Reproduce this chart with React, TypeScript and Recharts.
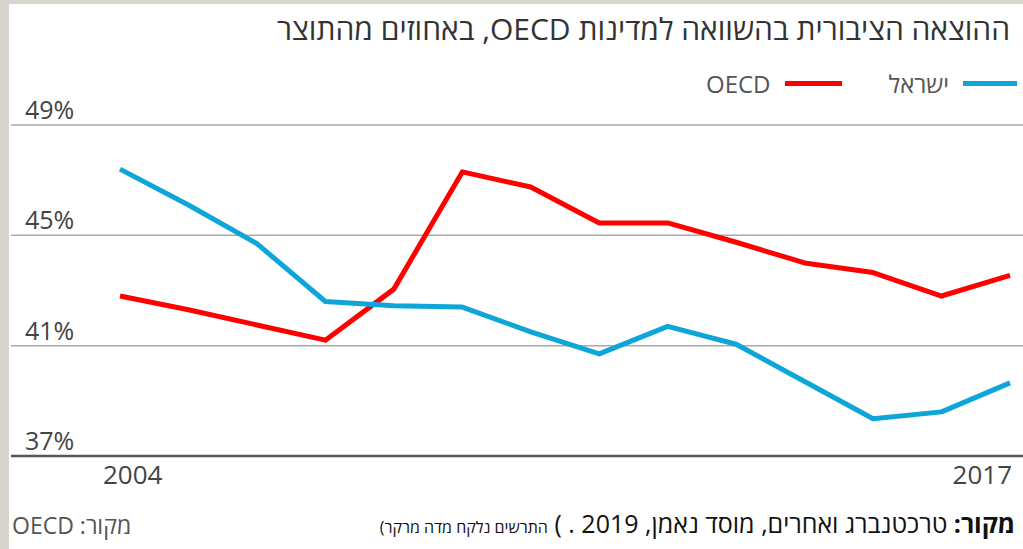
import { LineChart, Line, XAxis, YAxis, CartesianGrid, ReferenceLine } from 'recharts';

// years on the x axis
const years = [2004, 2005, 2006, 2007, 2008, 2009, 2010, 2011, 2012, 2013, 2014, 2015, 2016, 2017];
// public expenditure, % of GDP
const israel = [47.4, 46.1, 44.7, 42.6, 42.45, 42.4, 41.5, 40.7, 41.7, 41.05, 39.7, 38.35, 38.6, 39.65];
const oecd = [42.8, 42.3, 41.75, 41.2, 43.05, 47.3, 46.75, 45.45, 45.45, 44.75, 44.0, 43.65, 42.8, 43.55];
const yTicks = [37, 41, 45, 49];
const xTicks = [2004, 2017];

const title = 'ההוצאה הציבורית בהשוואה למדינות OECD, באחוזים מהתוצר';
const legendItems = [
  { name: 'ישראל', color: '#0ea5d8' },
  { name: 'OECD', color: '#ff0000' },
];

const FONT = '"Open Sans", "DejaVu Sans", sans-serif';

const data = years.map((y, i) => ({ year: y, israel: israel[i], oecd: oecd[i] }));

function YTick(props: any) {
  return (
    <text x={25} y={props.y - 6} fill="#444" fontSize={25} fontFamily={FONT} textAnchor="start">
      {props.payload.value}%
    </text>
  );
}

function XTick(props: any) {
  const first = props.payload.value === xTicks[0];
  return (
    <text
      x={first ? props.x - 17 : props.x + 5}
      y={484}
      fill="#444"
      fontSize={26}
      fontFamily={FONT}
      textAnchor={first ? 'start' : 'end'}
    >
      {props.payload.value}
    </text>
  );
}

function ChartLegend() {
  return (
    <div
      style={{
        position: 'absolute', right: 6, top: 67, display: 'flex', flexDirection: 'row-reverse',
        alignItems: 'center', fontFamily: FONT, fontSize: 24, color: '#555',
      }}
    >
      {legendItems.map((it, i) => (
        <div key={it.name} style={{ display: 'flex', flexDirection: 'row-reverse', alignItems: 'center', marginLeft: i === 0 ? 47 : 0 }}>
          <span style={{ display: 'inline-block', width: i === 0 ? 54 : 57, height: 5, background: it.color }} />
          <span style={{ marginRight: 14 }}>{it.name}</span>
        </div>
      ))}
    </div>
  );
}

export default function App() {
  return (
    <div style={{ position: 'relative', width: 1023, height: 549, background: '#fff', overflow: 'hidden' }}>
      <style>{'body{margin:0}'}</style>
      <div style={{ position: 'absolute', left: 0, top: 0, width: 1023, height: 4, background: '#d8d5ce' }} />
      <div style={{ position: 'absolute', left: 0, top: 0, width: 9, height: 549, background: '#d8d5ce' }} />
      <div
        style={{
          position: 'absolute', right: 13, top: 8, direction: 'rtl', fontFamily: FONT,
          fontSize: 30, color: '#333', whiteSpace: 'nowrap',
        }}
      >
        {title}
      </div>
      <ChartLegend />
      <div style={{ position: 'absolute', left: 0, top: 0 }}>
        <LineChart width={1023} height={549} data={data} margin={{ top: 125, right: 0, bottom: 33, left: 10 }}>
          <CartesianGrid vertical={false} stroke="#aaa" strokeWidth={1.5} />
          <XAxis
            dataKey="year"
            type="number"
            domain={[2004, 2017]}
            ticks={xTicks}
            padding={{ left: 109, right: 13 }}
            height={60}
            axisLine={false}
            tickLine={false}
            tick={<XTick />}
          />
          <YAxis
            domain={[37, 49]}
            ticks={yTicks}
            width={1}
            axisLine={false}
            tickLine={false}
            tick={<YTick />}
          />
          <ReferenceLine y={37} stroke="#555" strokeWidth={2.5} />
          <Line dataKey="oecd" stroke="#ff0000" strokeWidth={5} dot={false} isAnimationActive={false} strokeLinejoin="round" />
          <Line dataKey="israel" stroke="#0ea5d8" strokeWidth={5} dot={false} isAnimationActive={false} strokeLinejoin="round" />
        </LineChart>
      </div>
      <div
        style={{
          position: 'absolute', right: 8, top: 506, direction: 'rtl', fontFamily: FONT,
          fontSize: 25, color: '#111', whiteSpace: 'nowrap',
        }}
      >
        <b>מקור:</b> טרכטנברג ואחרים, מוסד נאמן, 2019 . ) <span style={{ fontSize: 16 }}>התרשים נלקח מדה מרקר)</span>
      </div>
      <div
        style={{
          position: 'absolute', left: 12, top: 509, direction: 'rtl', fontFamily: FONT,
          fontSize: 23, color: '#555', whiteSpace: 'nowrap',
        }}
      >
        מקור: OECD
      </div>
    </div>
  );
}
